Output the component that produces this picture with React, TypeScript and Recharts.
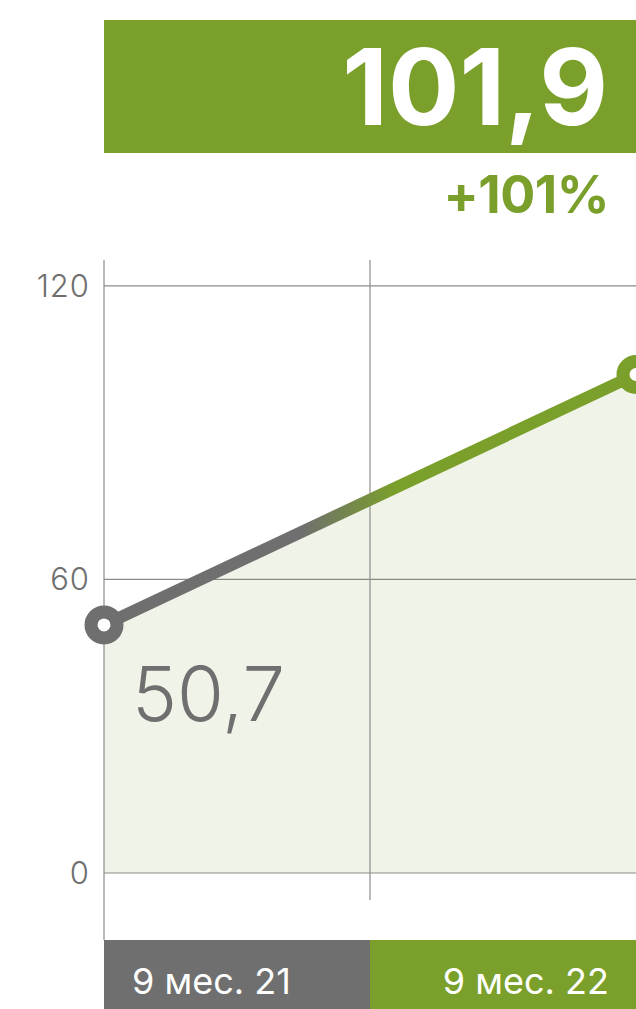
import {
  Area,
  CartesianGrid,
  ComposedChart,
  Line,
  ReferenceLine,
  XAxis,
  YAxis,
} from "recharts";

const categories = ["9 мес. 21", "9 мес. 22"];
const values = [50.7, 101.9];
const yTicks = [0, 60, 120];

const GREEN = "#7a9f2a";
const GREY = "#6f6f6f";
const GRID = "#8c8c8c";
const FONT = "Inter, 'Noto Sans', sans-serif";

const W = 636;
const H = 1009;
const AXIS_W = 104;
const HALF = (W - AXIS_W) / 2;

const data = categories.map((label, i) => ({ pos: i, label, value: values[i] }));

const fmt = (v: number) => v.toString().replace(".", ",");
const growth = Math.round((values[1] / values[0] - 1) * 100);

function BandTick(props: any) {
  const { x, y, payload } = props;
  const i = payload.index ?? payload.value;
  const first = i === 0;
  return (
    <g>
      <rect x={first ? x : x - HALF} y={y} width={HALF} height={69} fill={first ? GREY : GREEN} />
      <text
        x={first ? x + 28 : x - 27}
        y={y + 54}
        textAnchor={first ? "start" : "end"}
        fill="#fff"
        fontSize={36}
        fontFamily={FONT}
      >
        {categories[i]}
      </text>
    </g>
  );
}

function Dot(props: any) {
  const { cx, cy, index } = props;
  return (
    <circle
      key={index}
      cx={cx}
      cy={cy}
      r={13}
      fill="#fff"
      stroke={index === 0 ? GREY : GREEN}
      strokeWidth={13}
    />
  );
}

function StartLabel(props: any) {
  const { x, y, index, value } = props;
  if (index !== 0) return null;
  return (
    <text x={x + 28} y={y + 96} fill={GREY} fontSize={76} fontWeight={300} fontFamily={FONT}>
      {fmt(value)}
    </text>
  );
}

export default function App() {
  return (
    <div style={{ position: "absolute", left: 0, top: 0, width: W, height: H, background: "#fff" }}>
      <ComposedChart width={W} height={H} data={data} margin={{ top: 260, right: 0, bottom: 0, left: 0 }}>
        <defs>
          <linearGradient id="lineGrad" x1="0" y1="0" x2="1" y2="0">
            <stop offset="0.37" stopColor={GREY} />
            <stop offset="0.55" stopColor={GREEN} />
          </linearGradient>
        </defs>
        <CartesianGrid
          vertical={false}
          horizontalValues={yTicks}
          stroke={GRID}
          strokeWidth={1.2}
        />
        <XAxis
          dataKey="pos"
          type="number"
          domain={[0, 1]}
          ticks={[0, 1]}
          height={69}
          axisLine={false}
          tickLine={false}
          tickSize={0}
          tickMargin={0}
          tick={<BandTick />}
          interval={0}
        />
        <YAxis
          width={AXIS_W}
          domain={[-13.7, 125.3]}
          ticks={yTicks}
          allowDataOverflow
          axisLine={{ stroke: GRID, strokeWidth: 1.2 }}
          tickLine={false}
          tickSize={0}
          tickMargin={14}
          tick={{ fill: GREY, fontSize: 31, fontWeight: 300, fontFamily: FONT, letterSpacing: 1 }}
        />
        <ReferenceLine
          segment={[
            { x: 0.5, y: 125.3 },
            { x: 0.5, y: -5.5 },
          ]}
          stroke={GRID}
          strokeWidth={1.2}
          ifOverflow="visible"
        />
        <Area
          dataKey="value"
          type="linear"
          baseValue={0}
          stroke="none"
          fill={GREEN}
          fillOpacity={0.11}
          isAnimationActive={false}
        />
        <Line
          dataKey="value"
          type="linear"
          stroke="url(#lineGrad)"
          strokeWidth={12}
          dot={<Dot />}
          activeDot={false}
          label={<StartLabel />}
          isAnimationActive={false}
        />
      </ComposedChart>
      <svg
        width={W}
        height={240}
        style={{ position: "absolute", left: 0, top: 0, pointerEvents: "none" }}
      >
        <rect x={AXIS_W} y={20} width={W - AXIS_W} height={133} fill={GREEN} />
        <text
          x={608}
          y={125}
          textAnchor="end"
          fill="#fff"
          fontSize={106}
          fontWeight={700}
          fontFamily={FONT}
          letterSpacing={0}
        >
          {fmt(values[1])}
        </text>
        <text
          x={609}
          y={213}
          textAnchor="end"
          fill={GREEN}
          fontSize={52}
          fontWeight={700}
          fontFamily={FONT}
          letterSpacing={-0.5}
        >
          {`+${growth}%`}
        </text>
      </svg>
    </div>
  );
}
